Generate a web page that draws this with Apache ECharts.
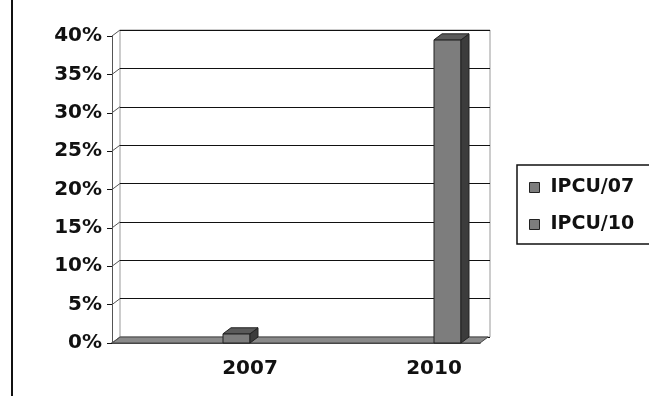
<!DOCTYPE html>
<html>
<head>
<meta charset="utf-8">
<script src="https://cdn.jsdelivr.net/npm/echarts@6/dist/echarts.min.js"></script>
<style>
  html, body { margin: 0; padding: 0; background: #fff; }
  #chart { width: 649px; height: 410px; }
</style>
</head>
<body>
<div id="chart"></div>
<script>
// categories (Excel left empty slots between the years)
const categories = ["", "2007", "", "2010"];
const seriesNames = ["IPCU/07", "IPCU/10"];
const ipcu07 = [null, 1.2, null, 0];
const ipcu10 = [null, 0, null, 39.5];
const yTicks = [0, 5, 10, 15, 20, 25, 30, 35, 40];

const DX = 8, DY = -6, BAR_W = 27;
const font = "'DejaVu Sans', Verdana, sans-serif";

const dom = document.getElementById("chart");
const myChart = echarts.init(dom, null, { renderer: "canvas" });

// 3d-ish bar, offset: -1 = left of band centre, 0 = right
function barRenderer(offset) {
  return function (params, api) {
    const v = api.value(1);
    if (!v) return null;
    const top = api.coord([api.value(0), v]);
    const base = api.coord([api.value(0), 0]);
    const x0 = top[0] + offset * BAR_W, x1 = x0 + BAR_W;
    const yt = top[1], yb = base[1];
    const stroke = { stroke: "#222", lineWidth: 1 };
    return {
      type: "group",
      children: [
        { type: "rect", shape: { x: x0, y: yt, width: BAR_W, height: yb - yt },
          style: Object.assign({ fill: "#7d7d7d" }, stroke) },
        { type: "polygon", shape: { points: [[x1, yt], [x1 + DX, yt + DY], [x1 + DX, yb + DY], [x1, yb]] },
          style: Object.assign({ fill: "#3c3c3c" }, stroke) },
        { type: "polygon", shape: { points: [[x0, yt], [x0 + DX, yt + DY], [x1 + DX, yt + DY], [x1, yt]] },
          style: Object.assign({ fill: "#5a5a5a" }, stroke) }
      ]
    };
  };
}

const option = {
  backgroundColor: "#fff",
  animation: false,
  graphic: [
    { type: "line", shape: { x1: 12, y1: 0, x2: 12, y2: 396 }, style: { stroke: "#111", lineWidth: 2 } }
  ],
  legend: {
    data: seriesNames,
    orient: "vertical",
    left: 517,
    top: 165,
    icon: "rect",
    itemWidth: 10,
    itemHeight: 10,
    itemGap: 18,
    padding: [13, 40, 10, 12],
    borderColor: "#111",
    borderWidth: 1.5,
    itemStyle: { borderColor: "#222", borderWidth: 1 },
    textStyle: { fontFamily: font, fontWeight: "bold", fontSize: 19, color: "#111", padding: [0, 0, 0, 6] }
  },
  grid: [
    { left: 112, right: 169, top: 36, bottom: 67 },
    { left: 120, right: 159, top: 30, bottom: 73, show: true, borderColor: "#999", borderWidth: 1 }
  ],
  xAxis: [
    {
      type: "category", gridIndex: 0, data: categories,
      axisLine: { lineStyle: { color: "#111", width: 1.5 } },
      axisTick: { length: 5, lineStyle: { color: "#111" } },
      axisLabel: { margin: 16, fontFamily: font, fontWeight: "bold", fontSize: 20, color: "#111" }
    },
    { type: "category", gridIndex: 1, data: categories, show: false }
  ],
  yAxis: [
    {
      type: "value", gridIndex: 0, min: 0, max: 40, interval: 5,
      axisLine: { show: true, lineStyle: { color: "#555", width: 1 } },
      axisTick: { show: true, length: 5, lineStyle: { color: "#111" } },
      splitLine: { show: false },
      axisLabel: { margin: 10, formatter: "{value}%", fontFamily: font, fontWeight: "bold", fontSize: 20, color: "#111" }
    },
    {
      type: "value", gridIndex: 1, min: 0, max: 40, interval: 5,
      axisLine: { show: false }, axisTick: { show: false }, axisLabel: { show: false },
      splitLine: { show: true, lineStyle: { color: "#111", width: 1.2 } }
    }
  ],
  series: [
    {
      // floor slab
      type: "custom", xAxisIndex: 0, yAxisIndex: 0, silent: true, z: 1,
      data: [[0, 0]],
      renderItem: function (params, api) {
        const cs = params.coordSys;
        const yb = api.coord([0, 0])[1];
        const xa = cs.x, xb = cs.x + cs.width;
        return {
          type: "polygon",
          shape: { points: [[xa, yb], [xa + DX, yb + DY], [xb + DX, yb + DY], [xb, yb]] },
          style: { fill: "#8a8a8a", stroke: "#444", lineWidth: 1 }
        };
      }
    },
    {
      // diagonal tick connectors to back wall
      type: "custom", xAxisIndex: 0, yAxisIndex: 0, silent: true, z: 1,
      data: yTicks.map(v => [0, v]),
      renderItem: function (params, api) {
        const cs = params.coordSys;
        const y = api.coord([0, api.value(1)])[1];
        return {
          type: "line",
          shape: { x1: cs.x, y1: y, x2: cs.x + DX, y2: y + DY },
          style: { stroke: "#555", lineWidth: 1 }
        };
      }
    },
    {
      name: seriesNames[0], type: "custom", xAxisIndex: 0, yAxisIndex: 0, z: 3,
      itemStyle: { color: "#7d7d7d" },
      data: ipcu07.map((v, i) => [i, v]),
      renderItem: barRenderer(-1)
    },
    {
      name: seriesNames[1], type: "custom", xAxisIndex: 0, yAxisIndex: 0, z: 3,
      itemStyle: { color: "#7d7d7d" },
      data: ipcu10.map((v, i) => [i, v]),
      renderItem: barRenderer(0)
    }
  ]
};

myChart.setOption(option);
window.addEventListener("resize", () => myChart.resize());
</script>
</body>
</html>
